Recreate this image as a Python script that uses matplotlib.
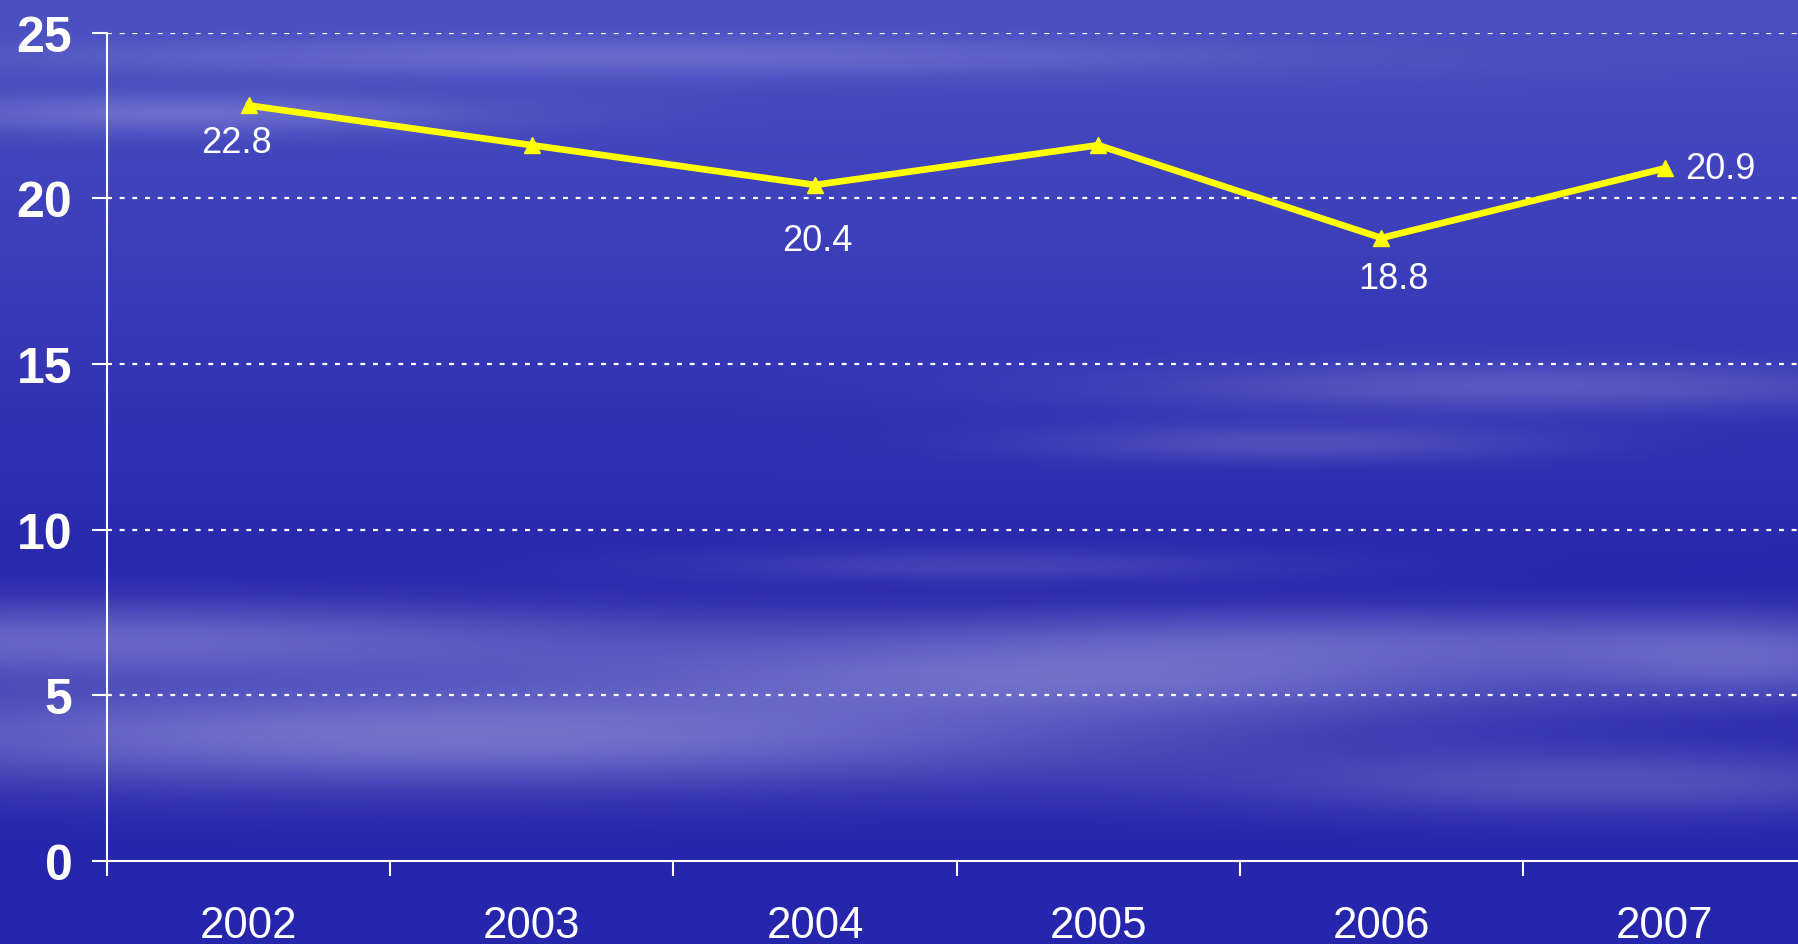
import numpy as np
import matplotlib
matplotlib.use("Agg")
import matplotlib.pyplot as plt

years = ["2002", "2003", "2004", "2005", "2006", "2007"]
values = [22.8, 21.6, 20.4, 21.6, 18.8, 20.9]
# which points carry a label and the offset of that label (points)
label_offsets = {0: (-9, -27), 2: (2, -40), 4: (9, -29), 5: (15, 0)}

plt.rcParams['font.family'] = ['Liberation Sans', 'DejaVu Sans']

W, H = 1798, 945
fig = plt.figure(figsize=(W / 100, H / 100), dpi=100)

# background: blue gradient with soft light streaks
bg_ax = fig.add_axes([0, 0, 1, 1], zorder=0)
yy, xx = np.mgrid[0:1:300j, 0:1:600j]
top = np.array([75, 80, 195]) / 255
bot = np.array([38, 38, 172]) / 255
t = np.clip(yy * 1.6, 0, 1)[..., None]
img = top * (1 - t) + bot * t
streaks = [
    # (cx, cy, sx, sy, strength)  cy from top in fraction
    (0.10, 0.12, 0.12, 0.015, 0.35),
    (0.35, 0.06, 0.25, 0.015, 0.30),
    (0.05, 0.68, 0.25, 0.030, 0.45),
    (0.25, 0.78, 0.30, 0.040, 0.55),
    (0.60, 0.72, 0.20, 0.030, 0.45),
    (0.75, 0.68, 0.20, 0.025, 0.35),
    (0.85, 0.41, 0.15, 0.018, 0.30),
    (0.72, 0.47, 0.10, 0.014, 0.25),
    (0.90, 0.83, 0.15, 0.025, 0.30),
    (0.55, 0.60, 0.12, 0.012, 0.20),
    (0.98, 0.70, 0.08, 0.030, 0.35),
]
light = np.array([175, 178, 228]) / 255
for cx, cy, sx, sy, s in streaks:
    g = s * np.exp(-((xx - cx) ** 2 / (2 * sx ** 2) + (yy - cy) ** 2 / (2 * sy ** 2)))
    img = img * (1 - g[..., None]) + light * g[..., None]
bg_ax.imshow(img, aspect="auto", extent=[0, 1, 0, 1], origin="upper")
bg_ax.axis("off")

ax = fig.add_axes([107 / W, 1 - 862 / H, (6 * 283.2) / W, (862 - 33.5) / H], zorder=1)
ax.patch.set_alpha(0)

x = np.arange(len(years))
ax.plot(x, values, color="#ffff00", lw=4.8, marker="^", ms=12, clip_on=False, zorder=3)

for i, (dx, dy) in label_offsets.items():
    ax.annotate(f"{values[i]:.1f}", (x[i], values[i]), xytext=(dx, dy), textcoords="offset points",
                ha="left" if dy == 0 else "center", va="center", color="white", fontsize=26)

ax.set_xlim(-0.5, 5.5)
ax.set_ylim(0, 25)
ax.set_yticks([0, 5, 10, 15, 20, 25])
ax.set_xticks(x)
ax.set_xticklabels(years)
ax.set_xticks(np.arange(-0.5, 6, 1), minor=True)
ax.tick_params(axis="x", which="major", length=0, pad=32, labelsize=31.5, labelcolor="white")
ax.tick_params(axis="x", which="minor", length=11, width=1.5, color="white", direction="out")
ax.tick_params(axis="y", length=11, width=1.5, color="white", pad=14, labelsize=36, labelcolor="white")
for lab in ax.get_yticklabels():
    lab.set_fontweight("bold")

for v in [5, 10, 15, 20, 25]:
    ax.axhline(v, color="white", lw=1.6, ls=(0, (2.2, 3.5)), zorder=1)

for side in ["top", "right"]:
    ax.spines[side].set_visible(False)
for side in ["left", "bottom"]:
    ax.spines[side].set_color("white")
    ax.spines[side].set_linewidth(1.5)

fig.savefig("out.png", dpi=100)
